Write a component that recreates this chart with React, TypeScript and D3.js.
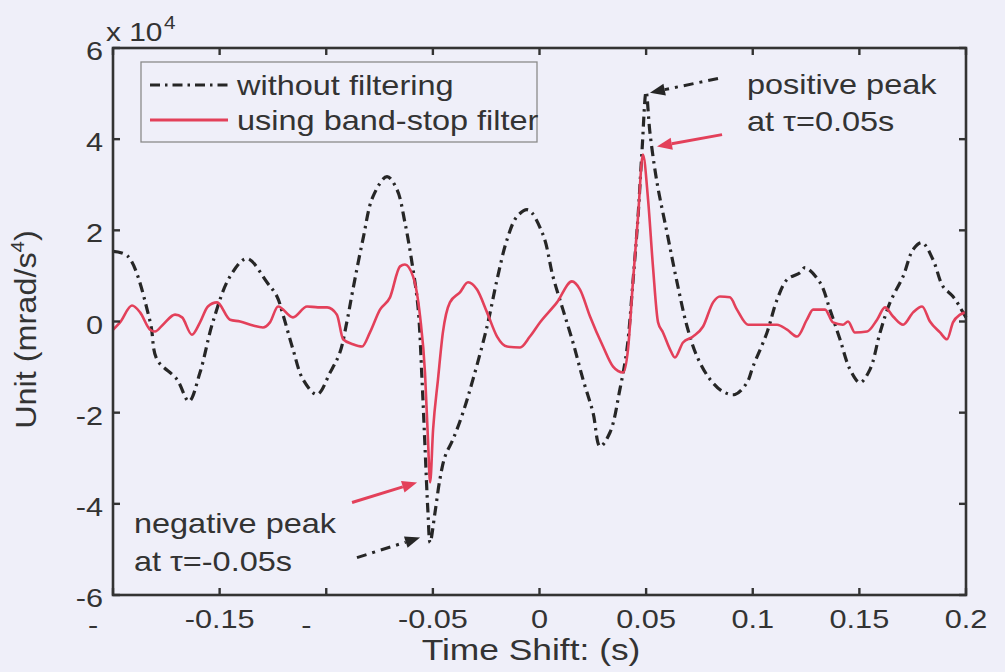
import React from "react";
import * as d3 from "d3";

// ---- data (values in units of 10^4 mrad/s^4) ----
const xTicks = [-0.2, -0.15, -0.1, -0.05, 0, 0.05, 0.1, 0.15, 0.2];
const xTickLabels = ["-", "-0.15", "-", "-0.05", "0", "0.05", "0.1", "0.15", "0.2"];
const yTicks = [-6, -4, -2, 0, 2, 4, 6];
const yTickLabels = ["-6", "-4", "-2", "0", "2", "4", "6"];
const legendLabels = ["without filtering", "using band-stop filter"];

const unfilteredT = [
  -0.2, -0.193, -0.1826, -0.1794, -0.17, -0.1644, -0.1592, -0.1531, -0.1451, -0.1372,
  -0.1278, -0.1231, -0.1203, -0.1156, -0.1109, -0.1043, -0.0982, -0.0936, -0.0903, -0.0875,
  -0.0828, -0.0781, -0.0715, -0.0668, -0.0631, -0.0598, -0.057, -0.0551, -0.0537, -0.0523,
  -0.0513, -0.049, -0.0467, -0.0443, -0.0406, -0.0359, -0.0312, -0.0246, -0.0199, -0.0152,
  -0.0106, -0.0054, 0.0016, 0.0063, 0.011, 0.0157, 0.0204, 0.0251, 0.0284, 0.0331,
  0.0377, 0.041, 0.0438, 0.0462, 0.0481, 0.05, 0.0518, 0.0551, 0.0598, 0.0645,
  0.0692, 0.0739, 0.08, 0.0861, 0.0917, 0.0973, 0.1001, 0.1067, 0.1114, 0.1161,
  0.1222, 0.1245, 0.1315, 0.1362, 0.1409, 0.1456, 0.1503, 0.155, 0.1597, 0.1644,
  0.1705, 0.1752, 0.1794, 0.1845, 0.1892, 0.1939, 0.1986, 0.2,
];
const unfilteredV = [
  1.54, 1.43, 0, -0.83, -1.27, -1.75, -1.12, 0, 0.99, 1.38,
  0.86, 0.55, 0.15, -0.61, -1.27, -1.6, -1.12, -0.68, 0, 0.7,
  1.8, 2.74, 3.18, 2.89, 2.17, 1.29, 0.33, -1.27, -2.74, -4.19,
  -4.85, -4.19, -3.46, -2.96, -2.59, -2.0, -1.27, -0.11, 0.92, 1.8,
  2.3, 2.45, 1.91, 0.99, 0.26, -0.46, -1.27, -2.0, -2.74, -2.43,
  -1.49, -0.61, 0.86, 2.3, 3.77, 5.04, 4.14, 3.05, 1.95, 0.86,
  -0.11, -0.77, -1.27, -1.54, -1.6, -1.34, -0.99, -0.24, 0.48, 0.92,
  1.07, 1.18, 0.86, 0.26, -0.39, -1.05, -1.34, -1.05, -0.24, 0.42,
  0.99, 1.58, 1.73, 1.36, 0.77, 0.55, 0.2, 0.09,
];

const filteredT = [
  -0.2, -0.1967, -0.1911, -0.1873, -0.1826, -0.1803, -0.1766, -0.1709, -0.1676, -0.163,
  -0.1592, -0.1555, -0.1512, -0.1451, -0.1404, -0.1343, -0.1297, -0.1264, -0.1226, -0.1156,
  -0.109, -0.1039, -0.0996, -0.095, -0.0921, -0.0875, -0.0832, -0.0795, -0.0748, -0.0701,
  -0.0654, -0.0631, -0.0593, -0.056, -0.0537, -0.0523, -0.0513, -0.0499, -0.0476, -0.0453,
  -0.042, -0.0373, -0.0335, -0.0293, -0.0246, -0.0199, -0.0152, -0.0091, -0.0045, 0.0002,
  0.0082, 0.0152, 0.019, 0.0237, 0.0298, 0.0345, 0.0392, 0.0415, 0.0438, 0.0462,
  0.0485, 0.0509, 0.0532, 0.0556, 0.0579, 0.0612, 0.0635, 0.0673, 0.072, 0.0767,
  0.0814, 0.0846, 0.0893, 0.0926, 0.0978, 0.1034, 0.1114, 0.1161, 0.1208, 0.1254,
  0.1283, 0.1339, 0.1376, 0.1423, 0.1447, 0.1479, 0.1536, 0.1583, 0.162, 0.1658,
  0.1705, 0.1752, 0.1794, 0.1831, 0.1878, 0.1911, 0.1939, 0.1972, 0.2,
];
const filteredV = [
  -0.18, -0.02, 0.35, 0.2, -0.18, -0.22, -0.07, 0.15, 0.09, -0.29,
  -0.02, 0.33, 0.42, 0.04, 0, -0.09, -0.13, -0.02, 0.33, 0.09,
  0.33, 0.31, 0.31, 0.15, -0.39, -0.5, -0.55, -0.24, 0.26, 0.53,
  1.21, 1.25, 0.99, 0.11, -1.12, -2.59, -3.53, -2.37, -1.27, -0.24,
  0.42, 0.64, 0.86, 0.7, 0.2, -0.33, -0.55, -0.57, -0.33, -0.02,
  0.42, 0.88, 0.7, 0.11, -0.55, -0.99, -1.12, -0.61, 0.86, 2.3,
  3.66, 2.68, 1.21, -0.02, -0.24, -0.61, -0.79, -0.46, -0.33, -0.11,
  0.42, 0.55, 0.53, 0.26, -0.07, -0.07, -0.07, -0.18, -0.33, 0.04,
  0.26, 0.26, -0.02, -0.07, 0, -0.24, -0.22, 0.04, 0.31, 0.11,
  -0.07, 0.2, 0.33, 0, -0.24, -0.39, -0.02, 0.15, 0.2,
];

// ---- layout / style ----
const W = 1005;
const H = 672;
const PL = 113, PR = 966, PT = 48, PB = 595;
const BG = "#efeff9";
const INK = "#333333";
const BLACK = "#262626";
const RED = "#e3405a";
const DASH = "10,5,2.5,5";
const FONT = "'Liberation Sans', Arial, sans-serif";

type TProps = {
  x: number; y: number; size: number; sx?: number; anchor?: string; rotate?: number;
  children: React.ReactNode;
};
function T({ x, y, size, sx = 1.18, anchor = "start", rotate = 0, children }: TProps) {
  const tr = `translate(${x},${y})` + (rotate ? ` rotate(${rotate})` : "") + ` scale(${sx},1)`;
  return (
    <text transform={tr} fontSize={size} textAnchor={anchor as any} fill={INK} fontFamily={FONT}>
      {children}
    </text>
  );
}

function Arrow({ x1, y1, x2, y2, color, dash }: { x1: number; y1: number; x2: number; y2: number; color: string; dash?: string }) {
  const ang = Math.atan2(y2 - y1, x2 - x1);
  const L = 15, hw = 6;
  const bx = x2 - L * Math.cos(ang);
  const by = y2 - L * Math.sin(ang);
  const px = -Math.sin(ang) * hw;
  const py = Math.cos(ang) * hw;
  return (
    <g>
      <line x1={x1} y1={y1} x2={bx} y2={by} stroke={color} strokeWidth={3} strokeDasharray={dash} />
      <polygon points={`${x2},${y2} ${bx + px},${by + py} ${bx - px},${by - py}`} fill={color} />
    </g>
  );
}

export default function App() {
  const x = d3.scaleLinear().domain([-0.2, 0.2]).range([PL, PR]);
  const y = d3.scaleLinear().domain([-6, 6]).range([PB, PT]);

  const blackLine = d3
    .line<[number, number]>()
    .x((d) => x(d[0]))
    .y((d) => y(d[1]))
    .curve(d3.curveCatmullRom.alpha(0.5));
  const redLine = d3
    .line<[number, number]>()
    .x((d) => x(d[0]))
    .y((d) => y(d[1]))
    .curve(d3.curveMonotoneX);

  const blackPts = unfilteredT.map((t, i) => [t, unfilteredV[i]] as [number, number]);
  const redPts = filteredT.map((t, i) => [t, filteredV[i]] as [number, number]);

  const tickLen = 7;

  return (
    <svg
      width={W}
      height={H}
      style={{ position: "fixed", left: 0, top: 0, display: "block" }}
      xmlns="http://www.w3.org/2000/svg"
    >
      <rect x={0} y={0} width={W} height={H} fill={BG} />

      {/* curves */}
      <path d={blackLine(blackPts) || ""} fill="none" stroke={BLACK} strokeWidth={3.2} strokeDasharray={DASH} />
      <path d={redLine(redPts) || ""} fill="none" stroke={RED} strokeWidth={2.6} strokeLinejoin="round" />

      {/* axes box */}
      <rect x={PL} y={PT} width={PR - PL} height={PB - PT} fill="none" stroke={INK} strokeWidth={2.6} />
      {xTicks.map((t, i) => (
        <g key={"xt" + i}>
          <line x1={x(t)} x2={x(t)} y1={PB} y2={PB - tickLen} stroke={INK} strokeWidth={2.4} />
          <line x1={x(t)} x2={x(t)} y1={PT} y2={PT + tickLen} stroke={INK} strokeWidth={2.4} />
          {xTickLabels[i] === "-" ? (
            <T x={x(t) - 20} y={634} size={26} anchor="middle">-</T>
          ) : (
            <T x={x(t)} y={628} size={26} anchor="middle">{xTickLabels[i]}</T>
          )}
        </g>
      ))}
      {yTicks.map((v, i) => (
        <g key={"yt" + i}>
          <line x1={PL} x2={PL + tickLen} y1={y(v)} y2={y(v)} stroke={INK} strokeWidth={2.4} />
          <line x1={PR} x2={PR - tickLen} y1={y(v)} y2={y(v)} stroke={INK} strokeWidth={2.4} />
          <T x={103} y={y(v) + 12} size={26} anchor="end">{yTickLabels[i]}</T>
        </g>
      ))}

      {/* exponent */}
      <T x={106} y={41} size={26} sx={1.15}>x 10</T>
      <T x={164} y={29} size={18} sx={1.15}>4</T>

      {/* axis labels */}
      <T x={531} y={660} size={29} sx={1.22} anchor="middle">Time Shift: (s)</T>
      <text
        transform={`translate(36,${(PT + PB) / 2 + 8}) rotate(-90) scale(1.08,1)`}
        fontSize={30}
        textAnchor="middle"
        fill={INK}
        fontFamily={FONT}
      >
        Unit (mrad/s<tspan dy={-12} fontSize={19}>4</tspan><tspan dy={12}>)</tspan>
      </text>

      {/* legend */}
      <rect x={141} y={62} width={396} height={80} fill={BG} stroke="#8a8a8a" strokeWidth={1.3} />
      <line x1={150} x2={228} y1={85} y2={85} stroke={BLACK} strokeWidth={3.2} strokeDasharray={DASH} />
      <line x1={150} x2={228} y1={120} y2={120} stroke={RED} strokeWidth={2.8} />
      <T x={237} y={95} size={28} sx={1.16}>{legendLabels[0]}</T>
      <T x={237} y={130} size={28} sx={1.16}>{legendLabels[1]}</T>

      {/* annotations */}
      <T x={x(0.0973)} y={y(5.0)} size={28} sx={1.16}>positive peak</T>
      <T x={x(0.0973)} y={y(4.17)} size={28} sx={1.16}>at τ=0.05s</T>
      <T x={x(-0.1902)} y={y(-4.65)} size={28} sx={1.16}>negative peak</T>
      <T x={x(-0.1902)} y={y(-5.48)} size={28} sx={1.16}>at τ=-0.05s</T>

      <Arrow x1={x(0.0837)} y1={y(5.33)} x2={x(0.0518)} y2={y(5.02)} color={BLACK} dash="10,6,3,6" />
      <Arrow x1={x(0.0856)} y1={y(4.1)} x2={x(0.0551)} y2={y(3.84)} color={RED} />
      <Arrow x1={x(-0.0879)} y1={y(-3.97)} x2={x(-0.0574)} y2={y(-3.53)} color={RED} />
      <Arrow x1={x(-0.0856)} y1={y(-5.18)} x2={x(-0.056)} y2={y(-4.74)} color={BLACK} dash="10,6,3,6" />
    </svg>
  );
}
